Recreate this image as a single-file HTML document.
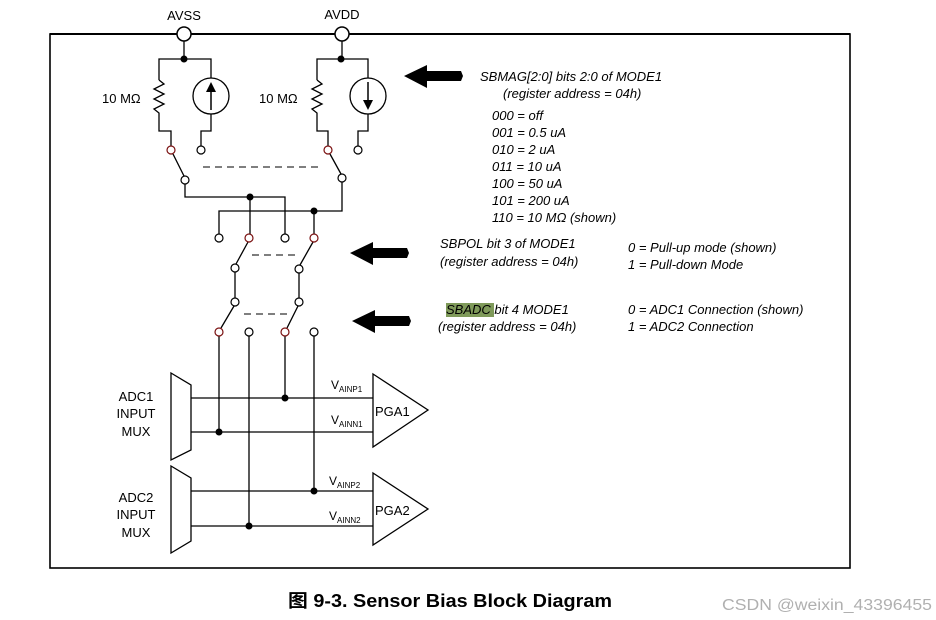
<!DOCTYPE html>
<html><head><meta charset="utf-8"><style>
html,body{margin:0;padding:0;background:#fff;}
svg{display:block;}
text{font-family:"Liberation Sans",Arial,sans-serif;fill:#000;}
.it{font-style:italic;font-size:13px;}
</style></head><body>
<svg width="936" height="620" viewBox="0 0 936 620" xmlns="http://www.w3.org/2000/svg">
<g fill="none" stroke="#000" stroke-width="1.3">
<rect x="50" y="34" width="800" height="534" stroke-width="1.6"/>
<line x1="184" y1="41" x2="184" y2="59"/>
<polyline points="159,80 159,59 211,59 211,78"/>
<polyline points="159,80 164,84 154,89 164,94 154,99 164,104 154,109 159,113 159,131 171,131 171,146"/>
<circle cx="211" cy="96" r="18"/>
<polyline points="211,114 211,131 201,131 201,146"/>
<line x1="173" y1="154" x2="184" y2="176"/>
<polyline points="185,184 185,197 285,197 285,234"/>
<line x1="250" y1="197" x2="250" y2="234"/>
<line x1="342" y1="41" x2="342" y2="59"/>
<polyline points="317,80 317,59 368,59 368,78"/>
<polyline points="317,80 322,84 312,89 322,94 312,99 322,104 312,109 317,113 317,131 328,131 328,146"/>
<circle cx="368" cy="96" r="18"/>
<polyline points="368,114 368,131 358,131 358,146"/>
<line x1="330" y1="154" x2="341" y2="174"/>
<polyline points="342,182 342,211 219,211 219,234"/>
<line x1="314" y1="211" x2="314" y2="234"/>
<line x1="248" y1="242" x2="236" y2="264"/>
<line x1="313" y1="242" x2="300" y2="265"/>
<line x1="235" y1="272" x2="235" y2="298"/>
<line x1="299" y1="273" x2="299" y2="298"/>
<line x1="234" y1="306" x2="221" y2="328"/>
<line x1="298" y1="306" x2="287" y2="328"/>
<line x1="219" y1="336" x2="219" y2="432"/>
<line x1="249" y1="336" x2="249" y2="526"/>
<line x1="285" y1="336" x2="285" y2="398"/>
<line x1="314" y1="336" x2="314" y2="491"/>
<polygon points="171,373 191,385 191,450 171,460"/>
<polygon points="171,466 191,478 191,541 171,553"/>
<line x1="191" y1="398" x2="373" y2="398"/>
<line x1="191" y1="432" x2="373" y2="432"/>
<line x1="191" y1="491" x2="373" y2="491"/>
<line x1="191" y1="526" x2="373" y2="526"/>
<polygon points="373,374 428,410 373,447"/>
<polygon points="373,473 428,509 373,545"/>
</g>
<g stroke="#333" stroke-width="1.3" stroke-dasharray="7,5" fill="none">
<line x1="203" y1="167" x2="318" y2="167"/>
<line x1="252" y1="255" x2="296" y2="255"/>
<line x1="244" y1="314" x2="288" y2="314"/>
</g>
<g stroke="#000" stroke-width="1.5">
<line x1="211" y1="110" x2="211" y2="88"/>
<line x1="368" y1="82" x2="368" y2="103"/>
</g>
<polygon points="211,82 206,92 216,92" fill="#000"/>
<polygon points="368,110 363,100 373,100" fill="#000"/>
<line x1="50" y1="34" x2="850" y2="34" stroke="#000" stroke-width="2"/>
<circle cx="184" cy="34" r="7" fill="#fff" stroke="#000" stroke-width="1.5"/>
<circle cx="342" cy="34" r="7" fill="#fff" stroke="#000" stroke-width="1.5"/>
<g fill="#000">
<circle cx="184" cy="59" r="3.5"/><circle cx="341" cy="59" r="3.5"/>
<circle cx="250" cy="197" r="3.5"/><circle cx="314" cy="211" r="3.5"/>
<circle cx="285" cy="398" r="3.5"/><circle cx="219" cy="432" r="3.5"/>
<circle cx="314" cy="491" r="3.5"/><circle cx="249" cy="526" r="3.5"/>
</g>
<g fill="#fff" stroke="#000" stroke-width="1.2">
<circle cx="201" cy="150" r="4"/><circle cx="358" cy="150" r="4"/>
<circle cx="185" cy="180" r="4"/><circle cx="342" cy="178" r="4"/>
<circle cx="219" cy="238" r="4"/><circle cx="285" cy="238" r="4"/>
<circle cx="235" cy="268" r="4"/><circle cx="299" cy="269" r="4"/>
<circle cx="235" cy="302" r="4"/><circle cx="299" cy="302" r="4"/>
<circle cx="249" cy="332" r="4"/><circle cx="314" cy="332" r="4"/>
</g>
<g fill="#fff" stroke="#7a1010" stroke-width="1.2">
<circle cx="171" cy="150" r="4"/><circle cx="328" cy="150" r="4"/>
<circle cx="249" cy="238" r="4"/><circle cx="314" cy="238" r="4"/>
<circle cx="219" cy="332" r="4"/><circle cx="285" cy="332" r="4"/>
</g>
<g fill="#000">
<polygon points="404,76 427,65 427,71 461,71 463,76 461,81 427,81 427,88"/>
<polygon points="350,253 373,242 373,248 407,248 409,253 407,258 373,258 373,265"/>
<polygon points="352,321 375,310 375,316 409,316 411,321 409,326 375,326 375,333"/>
</g>
<text x="184" y="20" font-size="13" text-anchor="middle">AVSS</text>
<text x="342" y="19" font-size="13" text-anchor="middle">AVDD</text>
<text x="102" y="103" font-size="13">10 MΩ</text>
<text x="259" y="103" font-size="13">10 MΩ</text>
<text x="480" y="81" class="it">SBMAG[2:0] bits 2:0 of MODE1</text>
<text x="503" y="98" class="it">(register address = 04h)</text>
<text x="492" y="120" class="it">000 = off</text>
<text x="492" y="137" class="it">001 = 0.5 uA</text>
<text x="492" y="154" class="it">010 = 2 uA</text>
<text x="492" y="171" class="it">011 = 10 uA</text>
<text x="492" y="188" class="it">100 = 50 uA</text>
<text x="492" y="205" class="it">101 = 200 uA</text>
<text x="492" y="222" class="it">110 = 10 MΩ (shown)</text>
<text x="440" y="248" class="it">SBPOL bit 3 of  MODE1</text>
<text x="440" y="266" class="it">(register address = 04h)</text>
<text x="628" y="252" class="it">0 = Pull-up mode (shown)</text>
<text x="628" y="269" class="it">1 = Pull-down Mode</text>
<rect x="446" y="303" width="48" height="14" fill="#7f9a5a"/>
<text x="446" y="314" class="it">SBADC bit 4 MODE1</text>
<text x="438" y="331" class="it">(register address = 04h)</text>
<text x="628" y="314" class="it">0 = ADC1 Connection (shown)</text>
<text x="628" y="331" class="it">1 = ADC2 Connection</text>
<g font-size="13" text-anchor="middle">
<text x="136" y="401">ADC1</text><text x="136" y="418">INPUT</text><text x="136" y="436">MUX</text>
<text x="136" y="502">ADC2</text><text x="136" y="519">INPUT</text><text x="136" y="537">MUX</text>
</g>
<text x="375" y="416" font-size="13">PGA1</text>
<text x="375" y="515" font-size="13">PGA2</text>
<text x="331" y="389" font-size="12">V<tspan font-size="8" dy="3">AINP1</tspan></text>
<text x="331" y="424" font-size="12">V<tspan font-size="8" dy="3">AINN1</tspan></text>
<text x="329" y="485" font-size="12">V<tspan font-size="8" dy="3">AINP2</tspan></text>
<text x="329" y="520" font-size="12">V<tspan font-size="8" dy="3">AINN2</tspan></text>
<text x="288" y="607" font-size="18" font-weight="bold" textLength="324" lengthAdjust="spacingAndGlyphs" style="font-family:'Liberation Sans','Noto Sans CJK SC',sans-serif">图 9-3. Sensor Bias Block Diagram</text>
<text x="722" y="610" font-size="15.5" textLength="210" lengthAdjust="spacingAndGlyphs" style="fill:#b0b0b0">CSDN @weixin_43396455</text>
</svg>
</body></html>
